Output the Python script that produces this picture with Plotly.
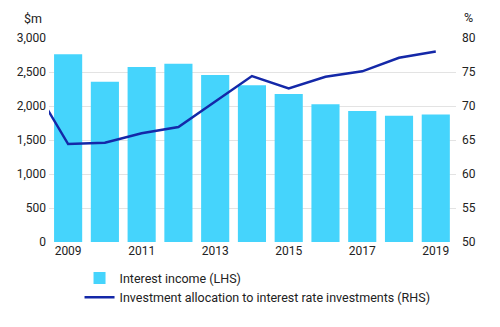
import plotly.graph_objects as go

years = [2009, 2010, 2011, 2012, 2013, 2014, 2015, 2016, 2017, 2018, 2019]
interest_income = [2760, 2355, 2575, 2620, 2455, 2305, 2175, 2025, 1925, 1855, 1875]
line_years = [2008, 2009, 2010, 2011, 2012, 2013, 2014, 2015, 2016, 2017, 2018, 2019]
allocation = [73.5, 64.4, 64.6, 66.0, 66.9, 70.7, 74.4, 72.6, 74.3, 75.1, 77.1, 78.0]
x_ticks = [2009, 2011, 2013, 2015, 2017, 2019]

font = dict(family="Roboto, Liberation Sans, sans-serif", size=12, color="#222222")

fig = go.Figure()
fig.add_trace(go.Bar(x=years, y=interest_income, name="Interest income (LHS)",
                     marker=dict(color="#45d4fc", line=dict(width=0)), yaxis="y"))
fig.add_trace(go.Scatter(x=line_years, y=allocation, mode="lines",
                         name="Investment allocation to interest rate investments (RHS)",
                         line=dict(color="#1428a8", width=2.5), yaxis="y2"))

fig.update_layout(
    width=500, height=327,
    margin=dict(l=49, r=44, t=38, b=85),
    paper_bgcolor="white", plot_bgcolor="white",
    font=font,
    bargap=0.235,
    showlegend=True,
    legend=dict(x=0.075, y=-0.105, xanchor="left", yanchor="top",
                orientation="v", font=dict(size=12.5, color="#222222"),
                bgcolor="rgba(0,0,0,0)", tracegroupgap=0, itemwidth=30),
    xaxis=dict(range=[2008.48, 2019.55], tickmode="array", tickvals=x_ticks,
               ticktext=[str(v) for v in x_ticks], showgrid=False, zeroline=False,
               showline=False, ticks="", tickfont=font),
    yaxis=dict(range=[0, 3000], dtick=500, tickformat=",", showgrid=True,
               gridcolor="#e3e3e3", gridwidth=1, zeroline=False, showline=False,
               ticks="", tickfont=font, ticklabelstandoff=2),
    yaxis2=dict(range=[50, 80], dtick=5, overlaying="y", side="right",
                showgrid=False, zeroline=False, showline=False, ticks="",
                tickfont=font, ticklabelstandoff=5),
    annotations=[
        dict(text="$m", xref="paper", yref="paper", x=-0.04, y=1.0, yshift=20,
             xanchor="center", yanchor="middle", showarrow=False,
             font=dict(family=font["family"], size=12.5, color="#222222")),
        dict(text="%", xref="paper", yref="paper", x=1.03, y=1.0, yshift=21,
             xanchor="center", yanchor="middle", showarrow=False,
             font=dict(family=font["family"], size=12.5, color="#222222")),
    ],
)

fig.write_html("out.html")
